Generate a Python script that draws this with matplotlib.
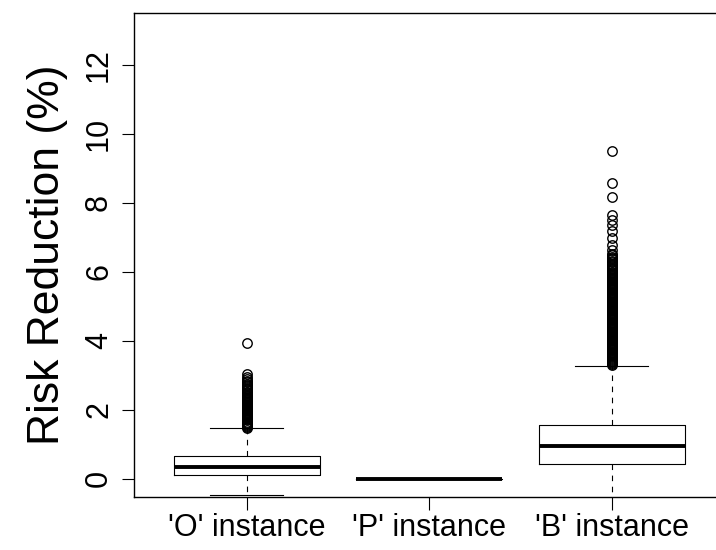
import matplotlib
matplotlib.use("Agg")
import matplotlib.pyplot as plt

plt.rcParams['font.family'] = ['Liberation Sans', 'DejaVu Sans']

categories = ["'O' instance", "'P' instance", "'B' instance"]

# box statistics: lower whisker, Q1, median, Q3, upper whisker
whis_lo = [-0.47, 0.0, -0.60]
q1 = [0.12, 0.0, 0.435]
median = [0.33, 0.0, 0.94]
q3 = [0.65, 0.0, 1.565]
whis_hi = [1.46, 0.0, 3.28]

o_outliers = [1.48, 1.51, 1.54, 1.57, 1.60, 1.63, 1.66, 1.69, 1.72, 1.75,
              1.78, 1.81, 1.84, 1.87, 1.90, 1.93, 1.96, 1.99, 2.02, 2.05,
              2.08, 2.11, 2.14, 2.17, 2.20, 2.23, 2.26, 2.29, 2.32, 2.35,
              2.38, 2.41, 2.44, 2.48, 2.52, 2.56, 2.60, 2.64, 2.68, 2.72,
              2.76, 2.80, 2.84, 2.88, 2.95, 3.05, 3.93]
p_outliers = []
b_outliers = [3.30, 3.33, 3.36, 3.39, 3.42, 3.45, 3.48, 3.51, 3.54, 3.57,
              3.60, 3.63, 3.66, 3.69, 3.72, 3.75, 3.78, 3.81, 3.84, 3.87,
              3.90, 3.93, 3.96, 3.99, 4.02, 4.05, 4.08, 4.11, 4.14, 4.17,
              4.20, 4.23, 4.26, 4.29, 4.32, 4.35, 4.38, 4.41, 4.44, 4.47,
              4.50, 4.53, 4.56, 4.59, 4.62, 4.65, 4.68, 4.71, 4.74, 4.77,
              4.80, 4.83, 4.86, 4.89, 4.92, 4.95, 4.98, 5.01, 5.04, 5.07,
              5.10, 5.13, 5.16, 5.19, 5.22, 5.25, 5.28, 5.31, 5.34, 5.37,
              5.40, 5.43, 5.46, 5.49, 5.52, 5.55, 5.58, 5.61, 5.64, 5.67,
              5.70, 5.73, 5.76, 5.79, 5.82, 5.85, 5.88, 5.91, 5.94, 5.97,
              6.00, 6.04, 6.08, 6.12, 6.16, 6.20, 6.24, 6.28, 6.32, 6.36,
              6.40, 6.44, 6.48, 6.52, 6.64, 6.78, 6.98, 7.17, 7.36,
              7.50, 7.65, 8.18, 8.57, 9.50]
outliers = [o_outliers, p_outliers, b_outliers]

y_ticks = [0, 2, 4, 6, 8, 10, 12]

stats = []
for i in range(len(categories)):
    stats.append(dict(label=categories[i], whislo=whis_lo[i], q1=q1[i],
                      med=median[i], q3=q3[i], whishi=whis_hi[i],
                      fliers=outliers[i]))

fig = plt.figure(figsize=(7.16, 5.5), dpi=100)
W, H = 716, 550
left_px, right_px, top_px, bottom_px = 133.5, 725, 12.5, 496.7
ax = fig.add_axes([left_px / W, 1 - bottom_px / H,
                   (right_px - left_px) / W, (bottom_px - top_px) / H])

ax.bxp(stats, positions=[1, 2, 3], widths=0.8,
       boxprops=dict(color='black', linewidth=0.8),
       medianprops=dict(color='black', linewidth=2.8, solid_capstyle='butt'),
       whiskerprops=dict(color='black', linewidth=0.8, linestyle=(0, (5, 5))),
       capprops=dict(color='black', linewidth=0.8),
       capwidths=0.4,
       flierprops=dict(marker='o', markerfacecolor='none', markeredgecolor='black',
                       markersize=6.8, markeredgewidth=1.0, linestyle='none'))

ax.set_xlim(0.38, 3.62)
ax.set_ylim(-0.52, 13.52)
ax.set_yticks(y_ticks)
ax.set_yticklabels([str(v) for v in y_ticks])
ax.set_xticks([1, 2, 3])
ax.set_xticklabels(categories)

ax.tick_params(axis='y', labelrotation=90, length=9, width=0.8, pad=5, labelsize=22)
ax.tick_params(axis='x', length=9, width=0.8, pad=3, labelsize=22)
for lab in ax.get_yticklabels():
    lab.set_va('center')

for s in ax.spines.values():
    s.set_linewidth(1.0)

ax.set_ylabel('Risk Reduction (%)', fontsize=32)
ax.yaxis.set_label_coords(-0.111, 0.5)

fig.savefig('out.png', dpi=100)
